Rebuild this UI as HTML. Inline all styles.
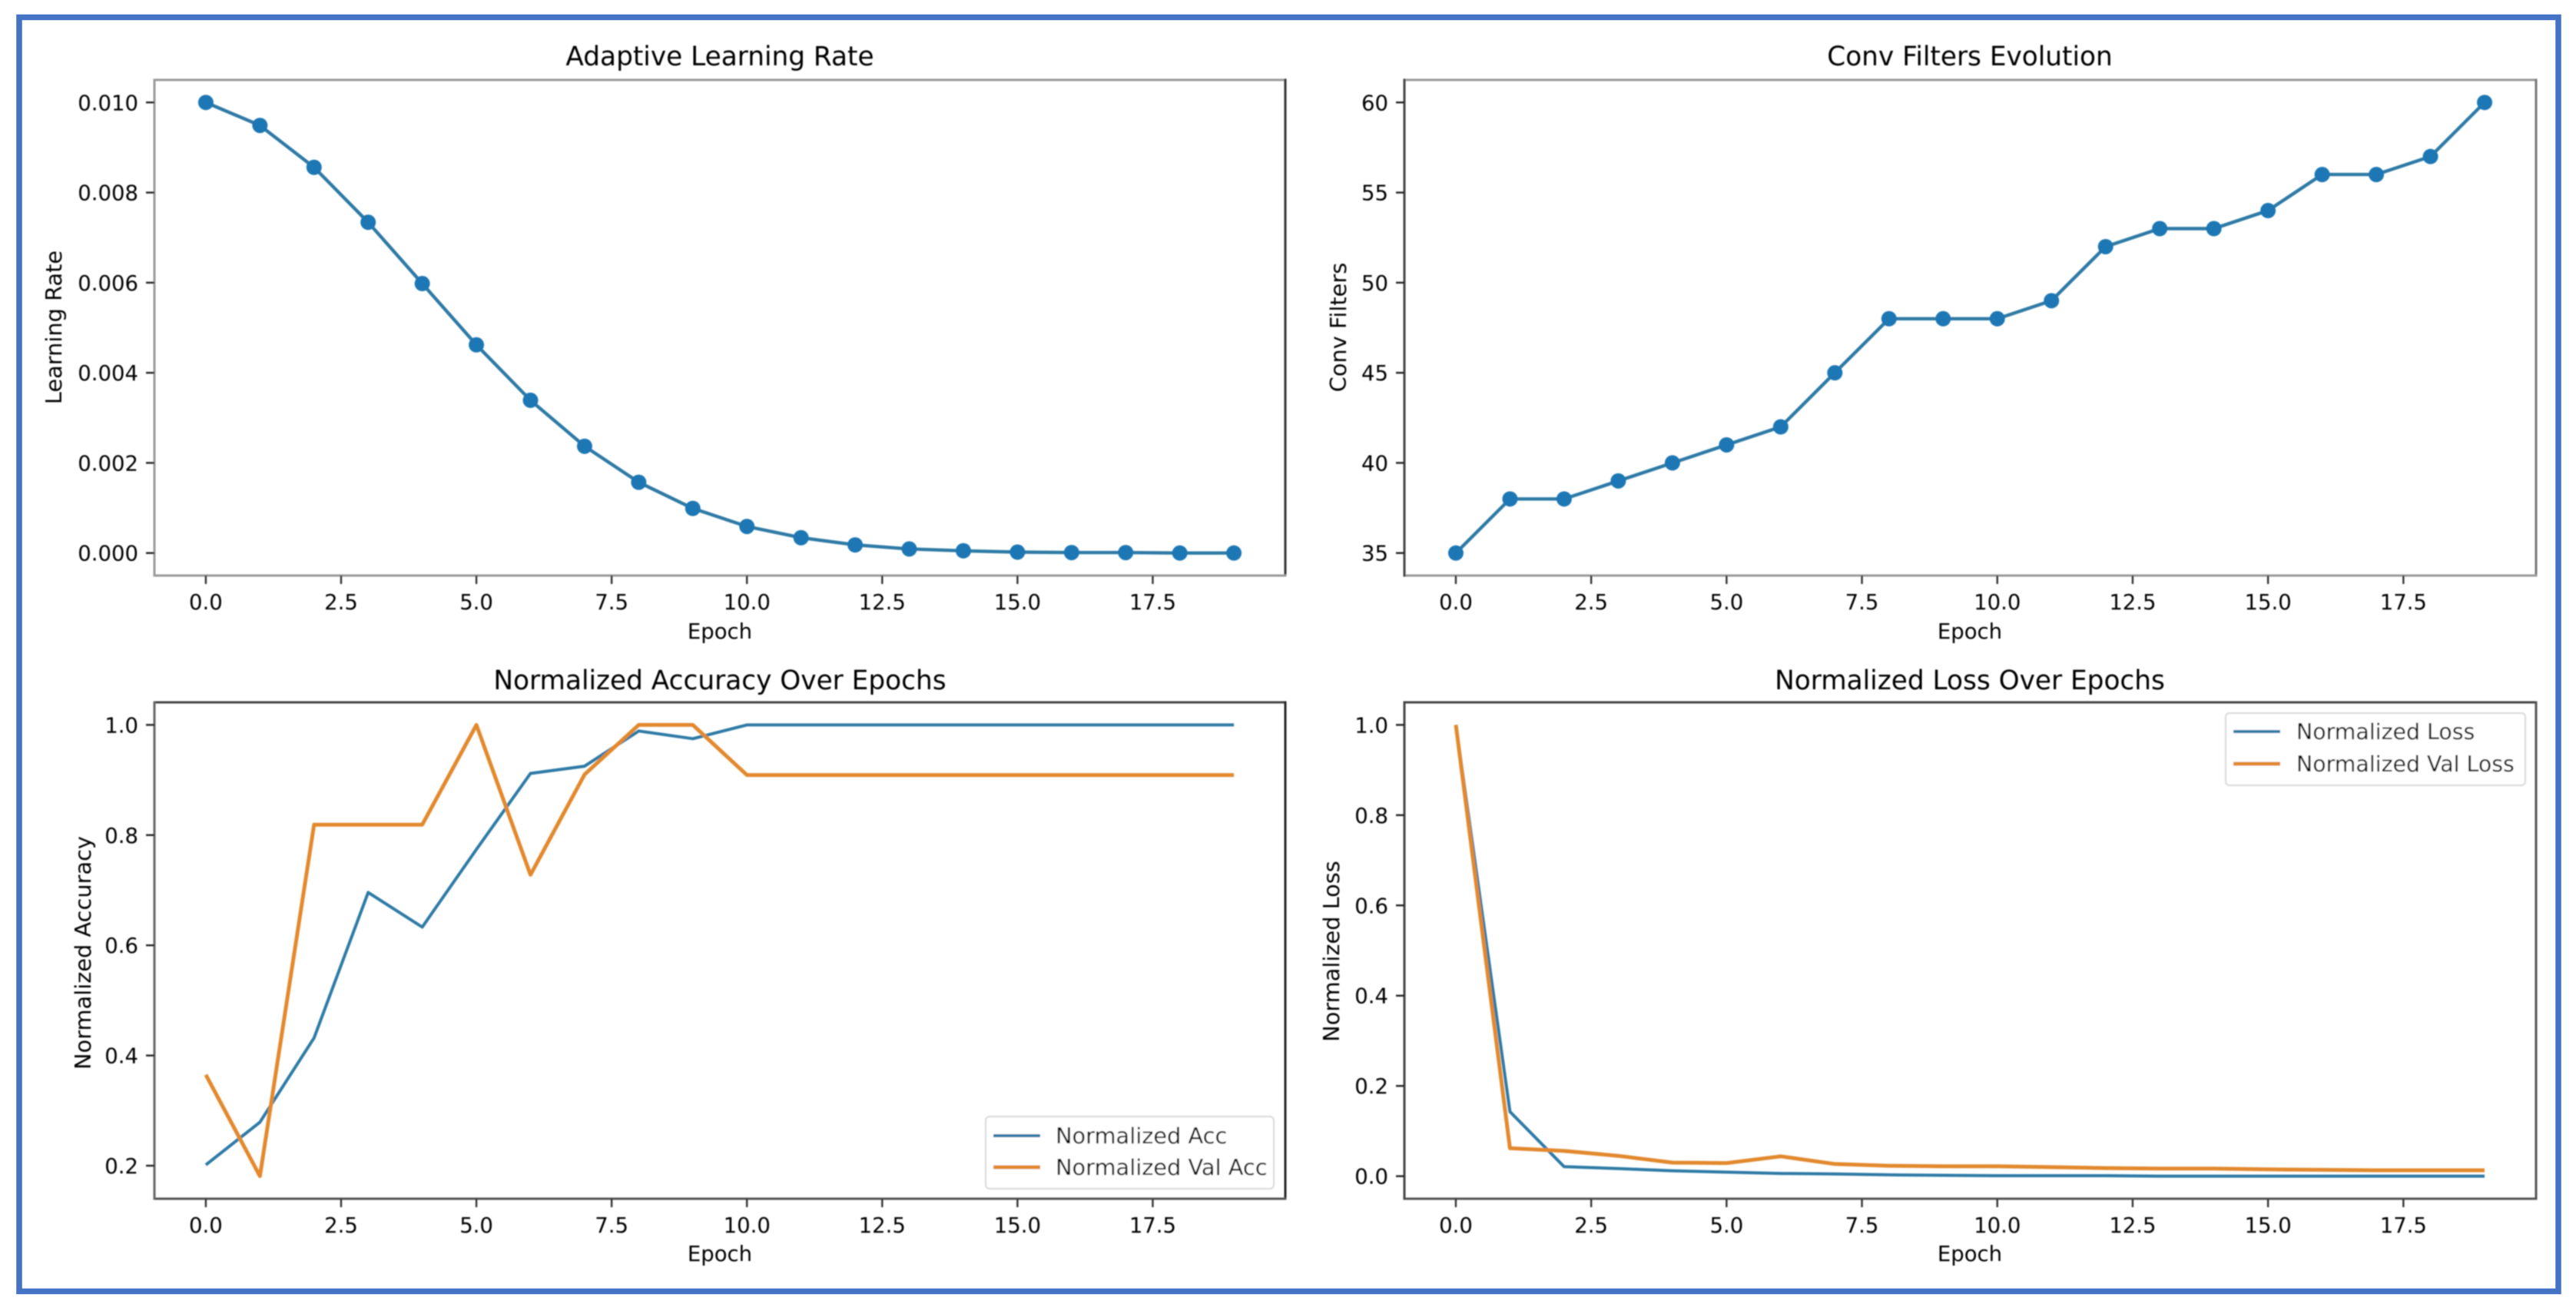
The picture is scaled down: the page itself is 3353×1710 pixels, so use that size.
<!DOCTYPE html>
<html lang="en">
<head>
<meta charset="utf-8">
<title>Training metrics</title>
<style>
html,body{margin:0;padding:0;background:#fff;}
svg{display:block;font-family:"DejaVu Sans","Liberation Sans",sans-serif;}
text{fill:#000;}
</style>
</head>
<body>
<svg id="figure" xmlns="http://www.w3.org/2000/svg" width="3353" height="1710" viewBox="0 0 3353 1710">
  <defs>
    <filter id="soft" x="0" y="0" width="100%" height="100%" filterUnits="userSpaceOnUse" primitiveUnits="userSpaceOnUse">
      <feGaussianBlur stdDeviation="0.9"/>
    </filter>
  </defs>
  <rect x="0" y="0" width="3353" height="1710" fill="#ffffff"/>
  <rect x="25" y="22.5" width="3305" height="1658" fill="none" stroke="#4472c4" stroke-width="7.5"/>
  <g id="root" filter="url(#soft)">
    <g id="panel-lr">
      <text x="937" y="85" font-size="34.3" text-anchor="middle">Adaptive Learning Rate</text>
      <text x="937" y="831" font-size="27.5" text-anchor="middle">Epoch</text>
      <text transform="translate(80 426) rotate(-90)" font-size="28.8" text-anchor="middle">Learning Rate</text>
    </g>
    <g id="panel-filters">
      <text x="2564" y="85" font-size="34.3" text-anchor="middle">Conv Filters Evolution</text>
      <text x="2564" y="831" font-size="27.5" text-anchor="middle">Epoch</text>
      <text transform="translate(1752 426) rotate(-90)" font-size="28.8" text-anchor="middle">Conv Filters</text>
    </g>
    <g id="panel-acc">
      <text x="937" y="897" font-size="34.3" text-anchor="middle">Normalized Accuracy Over Epochs</text>
      <text x="937" y="1641" font-size="27.5" text-anchor="middle">Epoch</text>
      <text transform="translate(118 1240) rotate(-90)" font-size="28.8" text-anchor="middle">Normalized Accuracy</text>
    </g>
    <g id="panel-loss">
      <text x="2564" y="897" font-size="34.3" text-anchor="middle">Normalized Loss Over Epochs</text>
      <text x="2564" y="1641" font-size="27.5" text-anchor="middle">Epoch</text>
      <text transform="translate(1743 1238) rotate(-90)" font-size="28.8" text-anchor="middle">Normalized Loss</text>
    </g>
    <g id="legends">
      <g>
        <rect x="1283" y="1453" width="375" height="94" rx="5" fill="#ffffff" stroke="#dcdcdc" stroke-width="2.2"/>
        <line x1="1293" x2="1354" y1="1478" y2="1478" stroke="#2f7aa5" stroke-width="4"/>
        <text x="1374" y="1488" font-size="28.8">Normalized Acc</text>
        <line x1="1293" x2="1354" y1="1519" y2="1519" stroke="#e2892f" stroke-width="5"/>
        <text x="1374" y="1529" font-size="28.8">Normalized Val Acc</text>
      </g>
      <g>
        <rect x="2897" y="928" width="390" height="94" rx="5" fill="#ffffff" stroke="#dcdcdc" stroke-width="2.2"/>
        <line x1="2907" x2="2968" y1="952" y2="952" stroke="#2f7aa5" stroke-width="4"/>
        <text x="2989" y="962" font-size="28.4">Normalized Loss</text>
        <line x1="2907" x2="2968" y1="994" y2="994" stroke="#e2892f" stroke-width="5"/>
        <text x="2989" y="1004" font-size="28.4">Normalized Val Loss</text>
      </g>
    </g>
  </g>
</svg>
<script>
// Chart data
const epochs = [0,1,2,3,4,5,6,7,8,9,10,11,12,13,14,15,16,17,18,19];
const xTicks = [0,2.5,5,7.5,10,12.5,15,17.5];
const xTickLabels = ['0.0','2.5','5.0','7.5','10.0','12.5','15.0','17.5'];

const learningRate = [0.01,0.00949,0.00856,0.00734,0.00598,0.00462,0.00339,0.00237,0.00157,0.00099,0.00059,0.00034,0.00018,0.00009,0.00005,0.00002,0.00001,0.00001,0,0];
const lrTicks = [0,0.002,0.004,0.006,0.008,0.01];
const lrTickLabels = ['0.000','0.002','0.004','0.006','0.008','0.010'];

const convFilters = [35,38,38,39,40,41,42,45,48,48,48,49,52,53,53,54,56,56,57,60];
const filterTicks = [35,40,45,50,55,60];
const filterTickLabels = ['35','40','45','50','55','60'];

const normAcc = [0.2015,0.279,0.432,0.696,0.633,0.774,0.912,0.925,0.989,0.975,1,1,1,1,1,1,1,1,1,1];
const normValAcc = [0.365,0.181,0.819,0.819,0.819,1,0.728,0.91,1,1,0.909,0.909,0.909,0.909,0.909,0.909,0.909,0.909,0.909,0.909];
const accTicks = [0.2,0.4,0.6,0.8,1];
const accTickLabels = ['0.2','0.4','0.6','0.8','1.0'];

const normLoss = [1,0.143,0.021,0.017,0.012,0.009,0.006,0.005,0.003,0.002,0.001,0.001,0.001,0,0,0,0,0,0,0];
const normValLoss = [1,0.062,0.056,0.045,0.03,0.029,0.044,0.027,0.023,0.022,0.022,0.02,0.018,0.017,0.017,0.015,0.014,0.013,0.013,0.013];
const lossTicks = [0,0.2,0.4,0.6,0.8,1];
const lossTickLabels = ['0.0','0.2','0.4','0.6','0.8','1.0'];

const SVGNS = 'http://www.w3.org/2000/svg';
const BLUE_LINE = '#2f7aa5';
const BLUE_MARK = '#1f77b4';
const ORANGE_LINE = '#e2892f';

function mk(tag, attrs, parent) {
  const node = document.createElementNS(SVGNS, tag);
  for (const k in attrs) node.setAttribute(k, attrs[k]);
  parent.appendChild(node);
  return node;
}

function extent(seriesList) {
  const all = [].concat.apply([], seriesList);
  return [Math.min.apply(null, all), Math.max.apply(null, all)];
}

function drawPanel(cfg) {
  const g = document.getElementById(cfg.id);
  const box = cfg.box;
  const lim = extent(cfg.series.map(s => s.values));
  const yPad = (lim[1] - lim[0]) * 0.05;
  const xPad = (epochs[epochs.length - 1] - epochs[0]) * 0.05;
  const xMin = epochs[0] - xPad, xMax = epochs[epochs.length - 1] + xPad;
  const yMin = lim[0] - yPad, yMax = lim[1] + yPad;
  const xScale = v => box.l + (v - xMin) / (xMax - xMin) * (box.r - box.l);
  const yScale = v => box.b - (v - yMin) / (yMax - yMin) * (box.b - box.t);

  const spines = [
    ['top', box.l, box.t, box.r, box.t, cfg.spine.top],
    ['right', box.r, box.t, box.r, box.b, cfg.spine.right],
    ['bottom', box.l, box.b, box.r, box.b, cfg.spine.bottom],
    ['left', box.l, box.t, box.l, box.b, cfg.spine.left]
  ];
  spines.forEach(s => {
    const sp = mk('line', {x1: s[1], y1: s[2], x2: s[3], y2: s[4], stroke: s[5], 'stroke-width': 3, 'stroke-linecap': 'square'}, g);
    
    
  });

  xTicks.forEach((t, i) => {
    const x = xScale(t);
    const tk = mk('line', {x1: x, x2: x, y1: box.b, y2: box.b + 11, stroke: '#333', 'stroke-width': 2.4}, g);
    
    
    const lb = mk('text', {x: x, y: box.b + 44, 'font-size': 27.5, 'text-anchor': 'middle'}, g);
    lb.textContent = xTickLabels[i];
    
    
  });

  cfg.yTicks.forEach((t, i) => {
    const y = yScale(t);
    const tk = mk('line', {x1: box.l - 11, x2: box.l, y1: y, y2: y, stroke: '#222', 'stroke-width': 2.4}, g);
    
    
    const lb = mk('text', {x: box.l - 21, y: y + 10, 'font-size': 27.5, 'text-anchor': 'end'}, g);
    lb.textContent = cfg.yLabels[i];
    
    
  });

  cfg.series.forEach(s => {
    const pts = s.values.map((v, i) => xScale(epochs[i]).toFixed(1) + ',' + yScale(v).toFixed(1)).join(' ');
    const line = mk('polyline', {points: pts, fill: 'none', stroke: s.color, 'stroke-width': s.width, 'stroke-linejoin': 'round'}, g);
    
    
    if (s.markers) {
      s.values.forEach((v, i) => {
        const dot = mk('circle', {cx: xScale(epochs[i]), cy: yScale(v), r: 10, fill: BLUE_MARK}, g);
        
        
      });
    }
  });
}

drawPanel({
  id: 'panel-lr', key: 'learning-rate',
  box: {l: 201, r: 1673, t: 104, b: 749},
  spine: {top: '#9a9a9a', right: '#333333', bottom: '#9a9a9a', left: '#9a9a9a'},
  yTicks: lrTicks, yLabels: lrTickLabels,
  series: [{name: 'learning-rate', values: learningRate, color: BLUE_LINE, width: 4.4, markers: true}]
});
drawPanel({
  id: 'panel-filters', key: 'conv-filters',
  box: {l: 1828, r: 3301, t: 104, b: 749},
  spine: {top: '#9a9a9a', right: '#777777', bottom: '#9a9a9a', left: '#444444'},
  yTicks: filterTicks, yLabels: filterTickLabels,
  series: [{name: 'conv-filters', values: convFilters, color: BLUE_LINE, width: 4.4, markers: true}]
});
drawPanel({
  id: 'panel-acc', key: 'normalized-accuracy',
  box: {l: 201, r: 1673, t: 914, b: 1560},
  spine: {top: '#444444', right: '#222222', bottom: '#555555', left: '#666666'},
  yTicks: accTicks, yLabels: accTickLabels,
  series: [
    {name: 'normalized-acc', values: normAcc, color: BLUE_LINE, width: 4, markers: false},
    {name: 'normalized-val-acc', values: normValAcc, color: ORANGE_LINE, width: 5, markers: false}
  ]
});
drawPanel({
  id: 'panel-loss', key: 'normalized-loss',
  box: {l: 1828, r: 3301, t: 914, b: 1560},
  spine: {top: '#444444', right: '#555555', bottom: '#555555', left: '#444444'},
  yTicks: lossTicks, yLabels: lossTickLabels,
  series: [
    {name: 'normalized-loss', values: normLoss, color: BLUE_LINE, width: 4, markers: false},
    {name: 'normalized-val-loss', values: normValLoss, color: ORANGE_LINE, width: 5, markers: false}
  ]
});

// Legends stay above the plotted lines.
const rootGroup = document.getElementById('root');
rootGroup.appendChild(document.getElementById('legends'));
</script>
</body>
</html>
